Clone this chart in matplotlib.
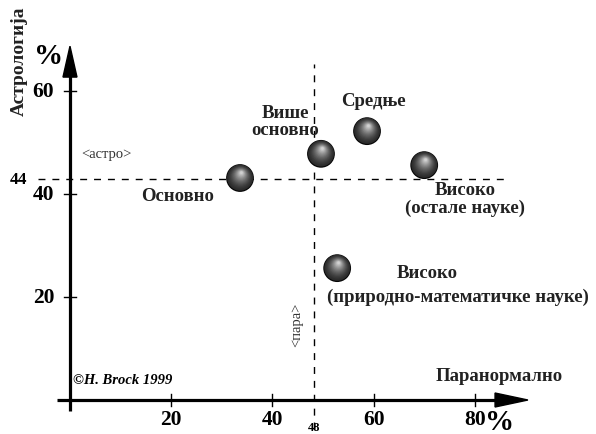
import matplotlib
matplotlib.use("Agg")
import matplotlib.pyplot as plt
import matplotlib.transforms as mtransforms
import numpy as np

# ---- data ----
x_vals = [33.6, 49.6, 58.7, 70.0, 52.8]   # Паранормално, %
y_vals = [43.1, 47.8, 52.2, 45.6, 25.6]   # Астрологија, %
x_ticks = [20, 40, 60, 80]
y_ticks = [20, 40, 60]
para_ref = 48.3
astro_ref = 42.9

SERIF = ["Liberation Serif", "DejaVu Serif"]

fig = plt.figure(figsize=(5.96, 4.35), dpi=100)
ax = fig.add_axes([0, 0, 1, 1])
ax.set_xlim(-13.83, 103.95)
ax.set_ylim(-6.60, 77.86)
ax.axis("off")

# pixel-to-data size helpers
px_x = (103.95 + 13.83) / 596.0
px_y = (77.86 + 6.60) / 435.0

# dashed reference lines
ax.plot([para_ref, para_ref], [-5.6, 65.2], color="black", lw=1.0,
        dashes=(5, 5), zorder=1)
ax.plot([-6.4, 87.0], [astro_ref, astro_ref], color="black", lw=1.0,
        dashes=(5, 5), zorder=1)

# axes with arrows
lw_axis = 2.3
ax.plot([-2.6, 84.5], [0, 0], color="black", lw=lw_axis, solid_capstyle="butt", zorder=3)
ax.plot([0, 0], [-2.1, 63.0], color="black", lw=lw_axis, solid_capstyle="butt", zorder=3)
ax.fill([84.0, 90.5, 84.0], [-7 * px_y, 0, 7 * px_y], color="black", zorder=3)
ax.fill([-7 * px_x, 0, 7 * px_x], [62.7, 68.7, 62.7], color="black", zorder=3)

for t in x_ticks:
    ax.plot([t, t], [-6 * px_y, 6 * px_y], color="black", lw=1.0, zorder=3)
    ax.text(t, -3.7, str(t), ha="center", va="center", fontsize=15.5,
            fontweight="bold", family=SERIF)
for t in y_ticks:
    ax.plot([-6 * px_x, 6 * px_x], [t, t], color="black", lw=1.0, zorder=3)
    ax.text(-3.1, t, str(t), ha="right", va="center", fontsize=15.5,
            fontweight="bold", family=SERIF)

ax.text(-10.1, astro_ref, "44", ha="center", va="center", fontsize=12.5,
        fontweight="bold", family=SERIF)
ax.text(para_ref, -5.2, "48", ha="center", va="center", fontsize=9,
        fontweight="bold", family=SERIF)

ax.text(-4.2, 66.8, "%", ha="center", va="center", fontsize=21,
        fontweight="bold", family=SERIF)
ax.text(84.9, -4.2, "%", ha="center", va="center", fontsize=21,
        fontweight="bold", family=SERIF)

ax.text(-10.1, 66.0, "Астрологија", rotation=90, ha="center", va="center",
        fontsize=14, fontweight="bold", family=SERIF, color="#222222")
ax.text(84.8, 4.7, "Паранормално", ha="center", va="center",
        fontsize=13.5, fontweight="bold", family=SERIF, color="#222222")

ax.text(7.2, 47.8, "<астро>", ha="center", va="center", fontsize=10.5,
        family=SERIF, color="#333333")
ax.text(44.9, 14.7, "<пара>", rotation=90, ha="center", va="center",
        fontsize=10.5, family=SERIF, color="#333333")

ax.text(0.5, 4.0, "©H. Brock 1999", ha="left", va="center", fontsize=10.5,
        fontweight="bold", fontstyle="italic", family=SERIF)

# point labels
lab_kw = dict(ha="center", va="center", fontsize=13.5, fontweight="bold",
              family=SERIF, color="#222222", linespacing=1.05)
ax.text(21.2, 39.8, "Основно", **lab_kw)
ax.text(42.5, 54.2, "Више\nосновно", **lab_kw)
ax.text(60.0, 58.1, "Средње", **lab_kw)
ax.text(78.1, 39.2, "Високо\n(остале науке)", **lab_kw)
ax.text(70.6, 24.7, "Високо", **lab_kw)
ax.text(76.7, 20.2, "(природно-математичке науке)", **lab_kw)

# shaded spheres
R = 10.0  # radius in points
n_layers = 16
for k in range(n_layers):
    t = k / (n_layers - 1)
    r = R * (1 - 0.9 * t)
    if k == 0:
        col = "#050505"
    else:
        g = 0.16 + 0.66 * t ** 1.6
        col = (g, g, g)
    tr = mtransforms.offset_copy(ax.transData, fig=fig,
                                 x=1.0 * t, y=3.8 * t, units="points")
    ax.scatter(x_vals, y_vals, s=(2 * r) ** 2, color=col, edgecolors="none",
               transform=tr, zorder=5 + k * 0.01)

fig.savefig("out.png", dpi=100)
